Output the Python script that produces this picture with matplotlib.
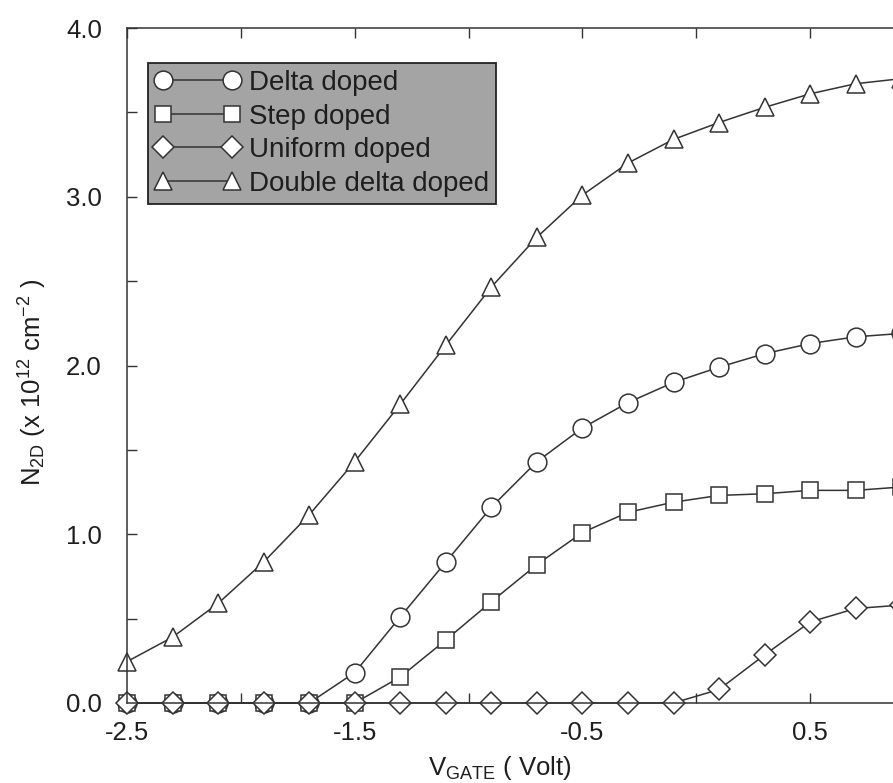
import matplotlib
matplotlib.use("Agg")
import matplotlib.pyplot as plt

plt.rcParams['font.family'] = ['Liberation Sans', 'DejaVu Sans']
plt.rcParams['mathtext.fontset'] = 'custom'
plt.rcParams['mathtext.rm'] = 'Liberation Sans'
plt.rcParams['mathtext.it'] = 'Liberation Sans:italic'

# gate voltage (V) and sheet density N2D (1e12 cm^-2)
v_gate = [-2.5, -2.3, -2.1, -1.9, -1.7, -1.5, -1.3, -1.1, -0.9,
          -0.7, -0.5, -0.3, -0.1, 0.1, 0.3, 0.5, 0.7, 0.9]
delta_doped = [0, 0, 0, 0, 0, 0.18, 0.51, 0.835, 1.16,
               1.43, 1.63, 1.78, 1.90, 1.99, 2.07, 2.13, 2.17, 2.19]
step_doped = [0, 0, 0, 0, 0, 0, 0.154, 0.373, 0.60,
              0.82, 1.01, 1.13, 1.19, 1.23, 1.24, 1.26, 1.26, 1.28]
uniform_doped = [0, 0, 0, 0, 0, 0, 0, 0, 0,
                 0, 0, 0, 0, 0.08, 0.285, 0.48, 0.56, 0.58]
double_delta = [0.245, 0.39, 0.59, 0.835, 1.115, 1.43, 1.77, 2.12, 2.465,
                2.76, 3.01, 3.20, 3.34, 3.44, 3.53, 3.61, 3.67, 3.70]

labels = ["Delta doped", "Step doped", "Uniform doped", "Double delta doped"]

fig = plt.figure(figsize=(8.93, 7.83), dpi=100)
ax = fig.add_axes([0.1422, 0.1022, 0.8925, 0.862])

ink = "#333333"
txt = "#1e1e1e"
style = dict(color=ink, lw=1.1, mfc="white", mec=ink, mew=1.1, clip_on=False)
ax.plot(v_gate, delta_doped, marker="o", ms=13.5, label=labels[0], **style)
ax.plot(v_gate, step_doped, marker="s", ms=12, label=labels[1], **style)
ax.plot(v_gate, uniform_doped, marker="D", ms=11.5, label=labels[2], **style)
ax.plot(v_gate, double_delta, marker="^", ms=13, label=labels[3], **style)

ax.set_xlim(-2.5, 1.0)
ax.set_ylim(0, 4.0)

ax.set_xticks([-2.5, -1.5, -0.5, 0.5])
ax.set_xticklabels(["-2.5", "-1.5", "-0.5", "0.5"])
ax.set_xticks([-2.0, -1.0, 0.0], minor=True)
ax.set_yticks([0, 1, 2, 3, 4])
ax.set_yticklabels(["0.0", "1.0", "2.0", "3.0", "4.0"])
ax.set_yticks([0.5, 1.5, 2.5, 3.5], minor=True)

ax.tick_params(which="both", direction="in", length=7, width=1, color=ink,
               top=True, right=False, labelsize=18.5, labelcolor=txt)
ax.tick_params(axis="x", which="major", pad=13)
ax.tick_params(axis="y", which="major", pad=18)

for side in ["left", "top", "bottom"]:
    ax.spines[side].set_color(ink)
    ax.spines[side].set_linewidth(1.1)
ax.spines["right"].set_visible(False)

ax.set_xlabel(r"V$_{\mathrm{GATE}}$ ( Volt)", fontsize=18.5, color=txt,
              va="top")
ax.xaxis.set_label_coords(0.468, -0.076)
ax.set_ylabel(r"N$_{\mathrm{2D}}$ (x 10$^{\mathrm{12}}$ cm$^{\mathrm{-2}}$ )",
              fontsize=18.5, color=txt)
ax.yaxis.set_label_coords(-0.098, 0.475)

leg = ax.legend(loc="upper left", bbox_to_anchor=(0.026, 0.948),
                borderaxespad=0, fontsize=20, numpoints=2, handlelength=3.1,
                handletextpad=0.3, labelspacing=0.27, borderpad=0.25,
                fancybox=False, framealpha=1)
leg.get_frame().set_facecolor("#a4a4a4")
leg.get_frame().set_edgecolor("#222222")
leg.get_frame().set_linewidth(1.3)
for t in leg.get_texts():
    t.set_color(txt)

fig.savefig("out.png", dpi=100)
